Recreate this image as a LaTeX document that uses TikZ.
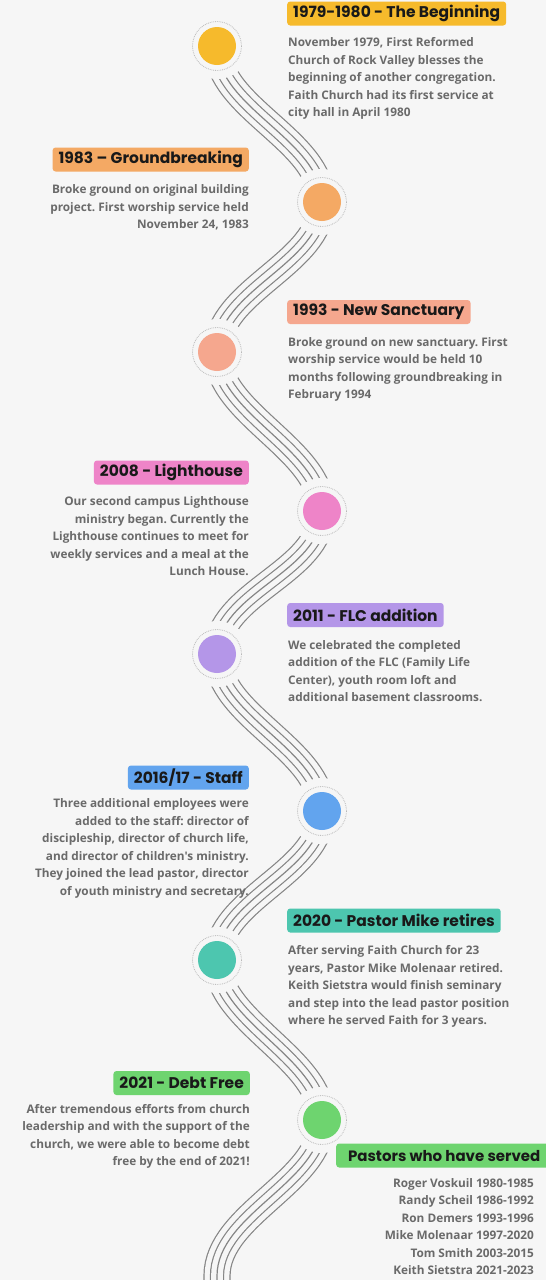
\documentclass[tikz,border=0pt]{standalone}
\usepackage{fontspec}
\usetikzlibrary{positioning,backgrounds}
\newfontfamily\headfont{Poppins}
\newfontfamily\bodyfont{Open Sans}
\frenchspacing
\definecolor{bgc}{HTML}{F6F6F6}
\definecolor{wavec}{HTML}{858585}
\definecolor{txtc}{HTML}{6A6A6A}
\definecolor{cyellow}{HTML}{F6BA2C}
\definecolor{corange}{HTML}{F4A964}
\definecolor{csalmon}{HTML}{F5A78E}
\definecolor{cpink}{HTML}{EE84C8}
\definecolor{cpurple}{HTML}{B496E8}
\definecolor{cblue}{HTML}{62A4EE}
\definecolor{cteal}{HTML}{4DC6AF}
\definecolor{cgreen}{HTML}{6ED46F}
\begin{document}
\begin{tikzpicture}[x=1pt,y=-1pt,
    stop/.style={circle,minimum size=38pt,inner sep=0pt},
    ring/.style={draw=gray!55,densely dotted,line width=0.8pt},
    tag/.style={rounded corners=3pt,inner xsep=6pt,inner ysep=0pt,minimum height=24pt,
      text=black!90,font=\headfont\bfseries\fontsize{15.5}{16}\selectfont},
    note/.style={inner sep=0pt,text=txtc,font=\bodyfont\bfseries\fontsize{11.8}{17.5}\selectfont},
    rnote/.style={note,align=left,anchor=north west},
    lnote/.style={note,align=right,anchor=north east}]
    \useasboundingbox (0,0) rectangle (546,1280);

    \foreach \n/\x/\y/\c in {1/217/46/cyellow,2/322/202/corange,3/217/352/csalmon,
      4/322/511/cpink,5/217/654/cpurple,6/322/811/cblue,7/217/960/cteal,8/322/1120/cgreen}{
      \fill[bgc] (\x,\y) circle (33);
      \draw[ring] (\x,\y) circle (24.5);
      \node[stop,fill=\c] (c\n) at (\x,\y) {};
    }
    \coordinate (tail) at (217,1276);

    \node[tag,fill=cyellow,anchor=west] (h1) at (287,13.5) {1979-1980 - The Beginning};
    \node[rnote,below=12pt of h1.south west,anchor=north west,xshift=1pt] (t1)
      {November 1979, First Reformed\\Church of Rock Valley blesses the\\beginning of another congregation.\\Faith Church had its first service at\\city hall in April 1980};

    \node[tag,fill=corange,anchor=east] (h2) at (249,159.5) {1983 – Groundbreaking};
    \node[lnote,below=13pt of h2.south east,anchor=north east] (t2)
      {Broke ground on original building\\project. First worship service held\\November 24, 1983};

    \node[tag,fill=csalmon,anchor=west] (h3) at (287,312) {1993 - New Sanctuary};
    \node[rnote,below=13pt of h3.south west,anchor=north west,xshift=1pt] (t3)
      {Broke ground on new sanctuary. First\\worship service would be held 10\\months following groundbreaking in\\February 1994};

    \node[tag,fill=cpink,anchor=east] (h4) at (249,472.5) {2008 - Lighthouse};
    \node[lnote,below=12pt of h4.south east,anchor=north east] (t4)
      {Our second campus Lighthouse\\ministry began. Currently the\\Lighthouse continues to meet for\\weekly services and a meal at the\\Lunch House.};

    \node[tag,fill=cpurple,anchor=west] (h5) at (287,615) {2011 - FLC addition};
    \node[rnote,below=13pt of h5.south west,anchor=north west,xshift=1pt] (t5)
      {We celebrated the completed\\addition of the FLC (Family Life\\Center), youth room loft and\\additional basement classrooms.};

    \node[tag,fill=cblue,anchor=east] (h6) at (249,777.5) {2016/17 - Staff};
    \node[lnote,below=9pt of h6.south east,anchor=north east] (t6)
      {Three additional employees were\\added to the staff: director of\\discipleship, director of church life,\\and director of children's ministry.\\They joined the lead pastor, director\\of youth ministry and secretary.};

    \node[tag,fill=cteal,anchor=west] (h7) at (287,920.5) {2020 - Pastor Mike retires};
    \node[rnote,below=13pt of h7.south west,anchor=north west,xshift=1pt] (t7)
      {After serving Faith Church for 23\\years, Pastor Mike Molenaar retired.\\Keith Sietstra would finish seminary\\and step into the lead pastor position\\where he served Faith for 3 years.};

    \node[tag,fill=cgreen,anchor=east] (h8) at (250,1083) {2021 - Debt Free};
    \node[lnote,below=9pt of h8.south east,anchor=north east] (t8)
      {After tremendous efforts from church\\leadership and with the support of the\\church, we were able to become debt\\free by the end of 2021!};

    \node[tag,fill=cgreen,anchor=west,minimum width=216pt,font=\headfont\bfseries\fontsize{15}{16}\selectfont] (h9) at (336,1155.5) {Pastors who have served\hspace{8pt}};
    \node[lnote] (t9) at (534,1178)
      {Roger Voskuil 1980-1985\\Randy Scheil 1986-1992\\Ron Demers 1993-1996\\Mike Molenaar 1997-2020\\Tom Smith 2003-2015\\Keith Sietstra 2021-2023};

    \begin{scope}[on background layer]
      \fill[bgc] (0,0) rectangle (546,1280);
      \foreach \w/\c in {27.2/wavec,24.8/bgc,14.2/wavec,11.8/bgc,1.2/wavec}
        \draw[line width=\w pt,\c] (c1.center)
          .. controls +(0,62) and +(0,-62) .. (c2.center)
          .. controls +(0,62) and +(0,-62) .. (c3.center)
          .. controls +(0,62) and +(0,-62) .. (c4.center)
          .. controls +(0,62) and +(0,-62) .. (c5.center)
          .. controls +(0,62) and +(0,-62) .. (c6.center)
          .. controls +(0,62) and +(0,-62) .. (c7.center)
          .. controls +(0,62) and +(0,-62) .. (c8.center)
          .. controls +(0,62) and +(0,-62) .. (tail) -- ++(0,40);
    \end{scope}
\end{tikzpicture}
\end{document}
